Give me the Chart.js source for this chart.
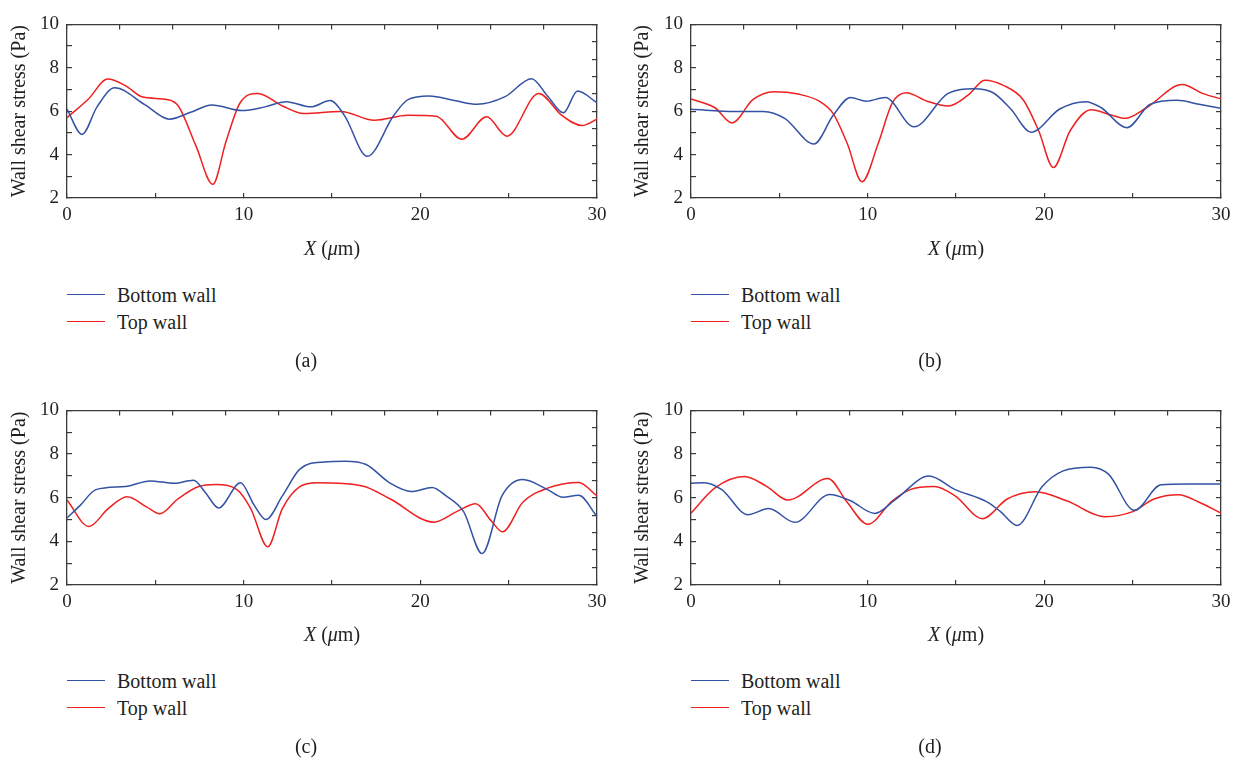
<!DOCTYPE html>
<html>
<head>
<meta charset="utf-8">
<script src="https://cdn.jsdelivr.net/npm/chart.js@4.4.1/dist/chart.umd.min.js"></script>
<style>
  body { margin: 0; background: #fff; width: 1242px; height: 763px; position: relative; overflow: hidden;
         font-family: "Liberation Serif", "DejaVu Serif", serif; color: #231f20; }
  .box { position: absolute; width: 621px; height: 265px; }
  .txt { position: absolute; font-size: 20px; line-height: 24px; white-space: nowrap; }
  .ctr { transform: translateX(-50%); }
  .ln { position: absolute; width: 38px; height: 0; border-top: 1.5px solid; }
</style>
</head>
<body>
<div class="box" style="left:0;top:0"><canvas id="ca"></canvas></div>
<div class="box" style="left:621px;top:0"><canvas id="cb"></canvas></div>
<div class="box" style="left:0;top:386px"><canvas id="cc"></canvas></div>
<div class="box" style="left:621px;top:386px"><canvas id="cd"></canvas></div>

<div class="txt ctr" style="left:332px;top:236px"><i>X</i> (<i>μ</i>m)</div>
<div class="txt ctr" style="left:956px;top:236px"><i>X</i> (<i>μ</i>m)</div>
<div class="txt ctr" style="left:332px;top:622px"><i>X</i> (<i>μ</i>m)</div>
<div class="txt ctr" style="left:956px;top:622px"><i>X</i> (<i>μ</i>m)</div>

<div id="legends"></div>

<div class="txt ctr" style="left:306px;top:348px">(a)</div>
<div class="txt ctr" style="left:930px;top:348px">(b)</div>
<div class="txt ctr" style="left:306px;top:734px">(c)</div>
<div class="txt ctr" style="left:930px;top:734px">(d)</div>

<script>
// series labels
const seriesNames = ['Bottom wall', 'Top wall'];
const blue = '#3452a4';
const red = '#ef2020';

// (a)
const xA_bottom = [0, 0.85, 1.7, 2.7, 4.4, 5.8, 7.0, 8.2, 9.9, 11.2, 12.4, 13.8, 14.9, 15.7, 17.0, 18.5, 19.3, 20.5, 22.0, 23.2, 24.8, 26.3, 27.2, 28.1, 28.9, 30];
const yA_bottom = [6.1, 4.93, 6.2, 7.08, 6.3, 5.63, 5.95, 6.29, 6.03, 6.2, 6.44, 6.2, 6.49, 5.81, 3.92, 5.81, 6.53, 6.7, 6.48, 6.32, 6.67, 7.5, 6.7, 5.93, 6.93, 6.39];
const xA_top = [0, 1.2, 2.3, 3.3, 4.3, 5.7, 6.3, 7.3, 8.25, 9.0, 9.8, 10.8, 12.2, 13.4, 15.5, 17.4, 19.3, 20.9, 22.35, 23.75, 24.9, 26.7, 28.0, 29.15, 30];
const yA_top = [5.7, 6.55, 7.48, 7.18, 6.65, 6.53, 6.24, 4.4, 2.63, 4.6, 6.39, 6.82, 6.24, 5.89, 5.99, 5.58, 5.81, 5.77, 4.71, 5.74, 4.85, 6.82, 5.81, 5.34, 5.63];

// (b)
const xB_bottom = [0, 2.5, 4.1, 5.3, 6.96, 8.05, 9.03, 9.92, 11.0, 12.62, 14.55, 16.0, 17.1, 18.1, 19.25, 20.87, 22.35, 23.2, 24.67, 26.0, 27.5, 28.76, 30];
const yB_bottom = [6.09, 5.99, 5.99, 5.67, 4.49, 5.81, 6.63, 6.46, 6.63, 5.28, 6.82, 7.03, 6.85, 6.10, 5.03, 6.10, 6.44, 6.17, 5.24, 6.32, 6.50, 6.32, 6.13];
const xB_top = [0, 1.34, 2.33, 3.5, 4.7, 6.07, 7.26, 8.05, 8.84, 9.68, 10.6, 11.4, 12.19, 13.37, 14.55, 15.7, 16.63, 17.71, 18.8, 19.68, 20.51, 21.46, 22.64, 23.83, 24.57, 25.8, 27.81, 28.95, 30];
const yB_top = [6.56, 6.17, 5.46, 6.53, 6.90, 6.79, 6.46, 5.89, 4.52, 2.75, 4.52, 6.39, 6.85, 6.46, 6.24, 6.75, 7.43, 7.18, 6.53, 5.10, 3.40, 5.10, 6.07, 5.81, 5.67, 6.17, 7.23, 6.82, 6.57];

// (c)
const xC_bottom = [0, 0.75, 1.64, 3.3, 4.7, 6.07, 7.16, 7.85, 8.58, 9.82, 10.6, 11.26, 12.19, 13.18, 14.55, 15.74, 16.93, 18.3, 19.5, 20.67, 21.46, 22.45, 23.5, 24.62, 25.8, 27.2, 28.07, 28.96, 30];
const yC_bottom = [5.07, 5.65, 6.37, 6.51, 6.77, 6.66, 6.80, 6.22, 5.53, 6.69, 5.65, 5.0, 6.08, 7.31, 7.64, 7.67, 7.52, 6.66, 6.28, 6.47, 6.08, 5.36, 3.44, 6.08, 6.83, 6.37, 6.02, 6.11, 5.14];
const xC_top = [0, 1.24, 2.33, 3.41, 4.5, 5.25, 6.27, 7.46, 8.44, 9.62, 10.4, 11.36, 12.19, 13.18, 14.16, 16.73, 18.3, 20.77, 22.05, 23.14, 24.02, 24.65, 25.8, 27.2, 28.96, 30];
const yC_top = [5.89, 4.68, 5.50, 6.04, 5.58, 5.26, 5.94, 6.51, 6.60, 6.37, 5.50, 3.75, 5.50, 6.51, 6.69, 6.54, 5.94, 4.88, 5.36, 5.72, 4.93, 4.44, 5.79, 6.44, 6.70, 6.08];

// (d)
const xD_bottom = [0, 0.75, 1.74, 3.22, 4.4, 5.88, 7.85, 9.03, 10.4, 11.6, 13.47, 14.95, 16.73, 17.52, 18.46, 19.88, 21.07, 22.64, 23.63, 25.1, 26.6, 28.17, 30];
const yD_bottom = [6.66, 6.69, 6.37, 5.22, 5.50, 4.87, 6.15, 5.86, 5.28, 5.94, 6.99, 6.37, 5.82, 5.36, 4.73, 6.51, 7.23, 7.40, 7.08, 5.42, 6.59, 6.63, 6.63];
const xD_top = [0, 1.34, 3.02, 4.3, 5.48, 7.75, 8.84, 10.0, 11.4, 12.4, 13.77, 14.95, 16.5, 17.9, 19.5, 21.26, 23.43, 25.0, 26.2, 27.6, 28.76, 30];
const yD_top = [5.29, 6.44, 6.97, 6.51, 5.89, 6.88, 5.79, 4.78, 5.86, 6.37, 6.51, 6.08, 5.04, 5.94, 6.27, 5.86, 5.13, 5.36, 5.94, 6.14, 5.79, 5.29];

const axisCol = '#3a3a3a';
const txtCol = '#231f20';
const serif = '"Liberation Serif", "DejaVu Serif", serif';

function pts(xs, ys) {
  return xs.map((x, i) => ({x: x, y: ys[i]}));
}

function line(label, data, color) {
  return {
    label: label, data: data, borderColor: color, backgroundColor: color,
    borderWidth: 1.5, pointRadius: 0, fill: false,
    cubicInterpolationMode: 'monotone'
  };
}

function inward(step, extra) {
  // tick marks pointing into the plot, no grid lines
  return Object.assign({
    type: 'linear',
    grid: {drawOnChartArea: false, drawTicks: true, tickLength: -5, color: axisCol, lineWidth: 1.2},
    border: {display: true, color: axisCol, width: 1.3}
  }, extra);
}

function panel(id, bx, by, tx, ty, o) {
  new Chart(document.getElementById(id), {
    type: 'line',
    data: {
      datasets: [
        line(seriesNames[0], pts(bx, by), blue),
        line(seriesNames[1], pts(tx, ty), red)
      ]
    },
    options: {
      responsive: true,
      maintainAspectRatio: false,
      animation: false,
      layout: {padding: 0},
      plugins: {legend: {display: false}, tooltip: {enabled: false}},
      scales: {
        x: inward(5, {
          position: 'bottom', min: 0, max: 30,
          afterFit: s => { s.height = o.xh; },
          ticks: {stepSize: 5, autoSkip: false, maxRotation: 0, padding: 11, color: txtCol,
                  font: {family: serif, size: 19},
                  callback: v => (v % 10 === 0 ? v : '')}
        }),
        x2: inward(3, {
          position: 'top', min: 0, max: 30,
          afterFit: s => { s.height = 12; },
          ticks: {display: false, stepSize: 3, autoSkip: false}
        }),
        y: inward(1, {
          position: 'left', min: 2, max: 10,
          afterFit: s => { s.width = o.yw; },
          ticks: {stepSize: 1, autoSkip: false, padding: 13, color: txtCol,
                  font: {family: serif, size: 19},
                  callback: v => (v % 2 === 0 ? v : '')},
          title: {display: true, text: 'Wall shear stress (Pa)', color: txtCol,
                  font: {family: serif, size: 20}, padding: {top: o.tp, bottom: 0}}
        }),
        y2: inward(0.8, {
          position: 'right', min: 2, max: 10,
          afterFit: s => { s.width = o.rw; },
          ticks: {display: false, stepSize: 0.8, autoSkip: false}
        })
      }
    }
  });
}

panel('ca', xA_bottom, yA_bottom, xA_top, yA_top, {xh: 67, yw: 67, rw: 24, tp: 8});
panel('cb', xB_bottom, yB_bottom, xB_top, yB_top, {xh: 67, yw: 70, rw: 21, tp: 10});
panel('cc', xC_bottom, yC_bottom, xC_top, yC_top, {xh: 66, yw: 67, rw: 24, tp: 8});
panel('cd', xD_bottom, yD_bottom, xD_top, yD_top, {xh: 66, yw: 70, rw: 21, tp: 10});

// legends under each panel
const legendSpots = [[67, 295], [691, 295], [67, 681], [691, 681]];
let html = '';
legendSpots.forEach(([lx, ly]) => {
  [blue, red].forEach((c, i) => {
    const y = ly + i * 27;
    html += '<div class="ln" style="left:' + lx + 'px;top:' + (y - 1) + 'px;border-color:' + c + '"></div>';
    html += '<div class="txt" style="left:' + (lx + 50) + 'px;top:' + (y - 12) + 'px">' + seriesNames[i] + '</div>';
  });
});
document.getElementById('legends').innerHTML = html;
</script>
</body>
</html>
